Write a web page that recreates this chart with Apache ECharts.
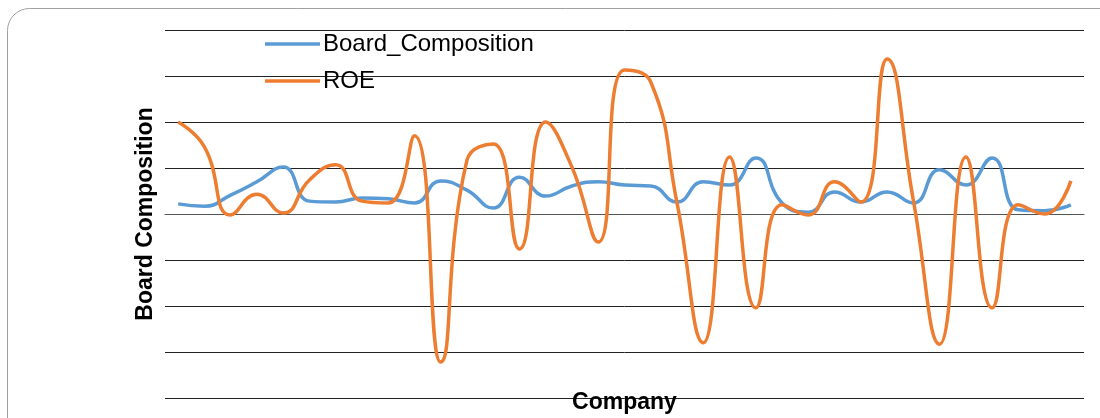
<!DOCTYPE html>
<html>
<head>
<meta charset="utf-8">
<script src="https://cdn.jsdelivr.net/npm/echarts@6/dist/echarts.min.js"></script>
<style>
  html, body { margin: 0; padding: 0; background: #fff; }
  #chart1 { width: 1100px; height: 418px; }
</style>
</head>
<body>
<div id="chart1"></div>
<script>
// 35 companies, no tick labels shown in the original
var companies = [];
for (var i = 1; i <= 35; i++) companies.push('C' + i);

var boardComposition = [0.22, 0.17, 0.41, 0.70, 1.02, 0.28, 0.26, 0.35, 0.33, 0.24,
    0.72, 0.52, 0.13, 0.80, 0.39, 0.61, 0.70, 0.63, 0.61, 0.26,
    0.70, 0.63, 1.22, 0.24, 0.04, 0.48, 0.26, 0.48, 0.24, 0.96,
    0.63, 1.22, 0.09, 0.07, 0.20];

var roe = [2.00, 1.46, -0.02, 0.43, 0.02, 0.74, 1.07, 0.28, 0.24, 1.70,
    -3.22, 1.17, 1.52, -0.76, 2.00, 1.02, -0.61, 3.13, 2.87, 0.24,
    -2.80, 1.24, -2.04, 0.20, -0.02, 0.70, 0.26, 3.37, 0.30, -2.83,
    1.24, -2.04, 0.20, 0.00, 0.72];

var chart1 = echarts.init(document.getElementById('chart1'));
var option = {
    animation: false,
    graphic: [{
        type: 'rect',
        shape: { x: 7.5, y: 8.5, width: 1120, height: 440, r: 22 },
        style: { fill: 'none', stroke: '#a0a0a0', lineWidth: 1 },
        silent: true
    }],
    legend: {
        orient: 'vertical',
        left: 260,
        top: 27,
        icon: 'rect',
        itemWidth: 55,
        itemHeight: 3.5,
        itemGap: 13,
        textStyle: { fontFamily: 'Liberation Sans', fontSize: 24, color: '#000', padding: [0, 0, 0, -2] },
        data: ['Board_Composition', 'ROE']
    },
    grid: { left: 165, right: 16, top: 30, bottom: 20, outerBoundsMode: 'none' },
    xAxis: {
        type: 'category',
        data: companies,
        boundaryGap: true,
        name: 'Company',
        nameLocation: 'middle',
        nameGap: 5,
        nameTextStyle: { fontFamily: 'Liberation Sans', fontWeight: 'bold', fontSize: 23, color: '#000', verticalAlign: 'middle' },
        axisLine: { show: true, lineStyle: { color: '#555', width: 1 } },
        axisTick: { show: false },
        axisLabel: { show: false }
    },
    yAxis: {
        type: 'value',
        min: -4,
        max: 4,
        interval: 1,
        name: 'Board Composition',
        nameLocation: 'middle',
        nameGap: 8,
        nameTextStyle: { fontFamily: 'Liberation Sans', fontWeight: 'bold', fontSize: 23, color: '#000' },
        axisLine: { show: false },
        axisTick: { show: false },
        axisLabel: { show: false },
        splitLine: { lineStyle: { color: '#222', width: 1 } }
    },
    series: [{
        name: 'Board_Composition',
        type: 'line',
        data: boardComposition,
        smooth: 0.5,
        symbol: 'none',
        lineStyle: { color: '#5B9BD5', width: 3.5 },
        itemStyle: { color: '#5B9BD5' }
    }, {
        name: 'ROE',
        type: 'line',
        data: roe,
        smooth: 0.5,
        symbol: 'none',
        lineStyle: { color: '#ED7D31', width: 3.5 },
        itemStyle: { color: '#ED7D31' }
    }]
};
chart1.setOption(option);
</script>
</body>
</html>
